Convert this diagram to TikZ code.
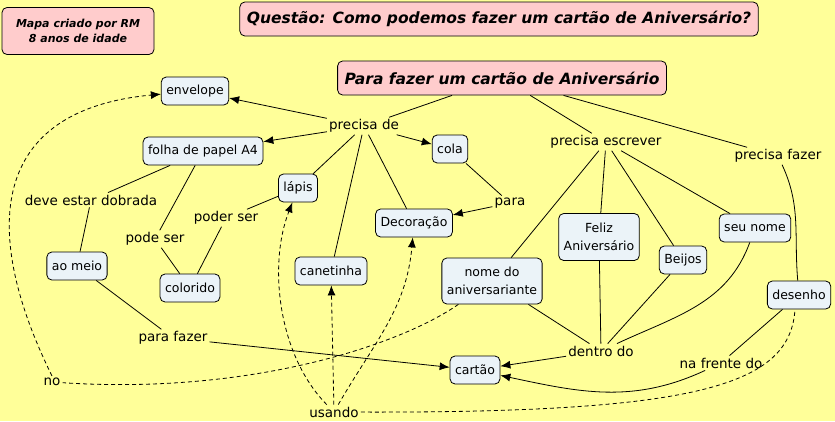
\documentclass[tikz,border=0pt]{standalone}
\usepackage{fontspec}
\setmainfont{DejaVu Sans}
\usepackage{tikz}
\usetikzlibrary{arrows, arrows.meta, positioning, calc}

\definecolor{mapbg}{RGB}{255,255,153}
\definecolor{conceptfill}{RGB}{235,243,248}
\definecolor{notefill}{RGB}{255,204,204}

\begin{document}
\begin{tikzpicture}[
    x=1pt, y=-1pt,
    concept/.style={rectangle, rounded corners=5pt, draw=black, line width=0.8pt, fill=conceptfill, align=center, font=\fontsize{12.5}{18}\selectfont, inner xsep=5pt, minimum height=28pt},
    note/.style={rectangle, rounded corners=5pt, draw=black, line width=0.8pt, fill=notefill, align=center, font=\fontsize{15.5}{18}\selectfont\bfseries\itshape, inner xsep=7pt, minimum height=34pt},
    link/.style={font=\fontsize{13.5}{16}\selectfont, inner sep=2pt},
    line/.style={line width=0.8pt},
    arrow/.style={line width=0.8pt, -{Latex[length=10pt,width=8pt]}},
    cross/.style={line width=0.8pt, dashed, dash pattern=on 4pt off 3pt},
    crossarrow/.style={cross, -{Latex[length=10pt,width=8pt]}}
]

\fill[mapbg] (0,0) rectangle (835,421);
\useasboundingbox (0,0) rectangle (835,421);

% --- Cabecalho ---
\node[note, font=\fontsize{11}{15}\selectfont\bfseries\itshape, minimum height=47pt, minimum width=152pt, inner xsep=6pt] (autor) at (78,31) {Mapa criado por RM\\8 anos de idade};
\node[note] (questao) at (499,19) {Questão: Como podemos fazer um cartão de Aniversário?};
\node[note] (raiz) at (502,78) {Para fazer um cartão de Aniversário};

% --- Conceitos ---
\node[concept] (envelope) at (195,91) {envelope};
\node[concept] (folha) at (203,151) {folha de papel A4};
\node[concept] (cola) at (450,149) {cola};
\node[concept] (lapis) at (298,188) {lápis};
\node[concept] (decoracao) at (414,223) {Decoração};
\node[concept] (aomeio) at (77,266) {ao meio};
\node[concept] (colorido) at (190,288) {colorido};
\node[concept] (canetinha) at (331,271) {canetinha};
\node[concept, minimum height=46pt] (nome) at (492,281) {nome do\\aniversariante};
\node[concept, minimum height=47pt] (feliz) at (599,237) {Feliz\\Aniversário};
\node[concept] (beijos) at (683,260) {Beijos};
\node[concept] (seunome) at (755,228) {seu nome};
\node[concept] (desenho) at (799,295) {desenho};
\node[concept] (cartao) at (475,370) {cartão};

% --- Frases de ligacao ---
\node[link] (precisade) at (364,126) {precisa de};
\node[link] (para) at (510,203) {para};
\node[link] (escrever) at (606,142) {precisa escrever};
\node[link] (fazer) at (778,156) {precisa fazer};
\node[link] (dobrada) at (91,200) {deve estar dobrada};
\node[link] (podeser) at (155,239) {pode ser};
\node[link] (poderser) at (226,218) {poder ser};
\node[link] (parafazer) at (173,338) {para fazer};
\node[link] (dentro) at (601,351) {dentro do};
\node[link] (frente) at (721,363) {na frente do};
\node[link] (no) at (52,382) {no};
\node[link] (usando) at (334,412) {usando};

% --- Ligacoes ---
\draw[line] (raiz) -- (precisade);
\draw[line] (raiz) -- (escrever);
\draw[line] (raiz) -- (fazer);
\draw[arrow] (precisade) -- (envelope);
\draw[arrow] (precisade) -- (folha);
\draw[arrow] (precisade) -- (cola);
\draw[line] (precisade) -- (lapis);
\draw[line] (precisade) -- (canetinha);
\draw[line] (precisade) -- (decoracao);
\draw[line] (cola) -- (para);
\draw[arrow] (para) -- (decoracao);
\draw[line] (folha) -- (dobrada);
\draw[line] (dobrada) -- (aomeio);
\draw[line] (folha) -- (podeser);
\draw[line] (podeser) -- (colorido);
\draw[line] (lapis) -- (poderser);
\draw[line] (poderser) -- (colorido);
\draw[line] (aomeio) -- (parafazer);
\draw[arrow] (parafazer) -- (cartao);
\draw[line] (escrever) -- (nome);
\draw[line] (escrever) -- (feliz);
\draw[line] (escrever) -- (beijos);
\draw[line] (escrever) -- (seunome);
\draw[line] (nome) -- (dentro);
\draw[line] (feliz) -- (dentro);
\draw[line] (beijos) -- (dentro);
\draw[line] (seunome) to[out=-110, in=25] (dentro);
\draw[arrow] (dentro) -- (cartao);
\draw[line] (fazer) to[out=-65, in=95] (desenho);
\draw[line] (desenho) -- (frente);
\draw[arrow] (frente) to[out=-155, in=-12] (cartao);

% --- Ligacoes cruzadas (tracejadas) ---
\draw[cross] (nome) .. controls (400,345) and (250,395) .. (no);
\draw[crossarrow] (no.north) .. controls (-20,230) and (-10,110) .. (envelope);
\draw[crossarrow] (usando) .. controls (278,355) and (268,265) .. (lapis);
\draw[crossarrow] (usando) -- (canetinha);
\draw[crossarrow] (usando) to[out=60, in=-95] (decoracao);
\draw[cross] (usando) .. controls (700,413) and (790,385) .. ([xshift=-4pt]desenho.south);

\end{tikzpicture}
\end{document}
